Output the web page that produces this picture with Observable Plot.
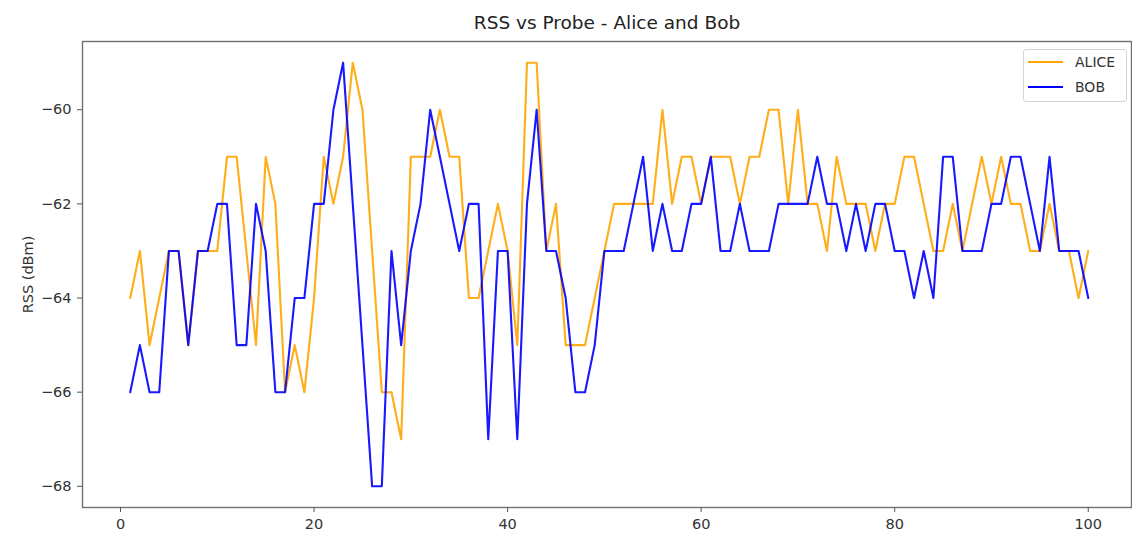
<!DOCTYPE html>
<html>
<head>
<meta charset="utf-8">
<script src="https://cdn.jsdelivr.net/npm/d3@7"></script>
<script src="https://cdn.jsdelivr.net/npm/@observablehq/plot@0.6"></script>
<style>
  body { margin: 0; background: #fff; }
  #wrap { position: relative; width: 1132px; height: 534px; font-family: "DejaVu Sans", sans-serif; }
  #legend { position: absolute; left: 1023px; top: 49px; width: 104px; height: 53px;
    border: 1px solid #d4d4d4; border-radius: 3px; background: rgba(255,255,255,0.85); box-sizing: border-box; }
  .item { position: absolute; left: 4px; height: 16px; display: flex; align-items: center; font-size: 14px; color: #333; }
  .sw { width: 35px; height: 0; border-top-width: 2px; border-top-style: solid; margin-right: 12px; }
</style>
</head>
<body>
<div id="wrap">
  <div id="chart"></div>
  <div id="legend"></div>
</div>
<script>
// Probe index (x)
const probes = d3.range(1, 101);

// RSS series (dBm)
const alice = [
  -64, -63, -65, -64, -63, -63, -65, -63, -63, -63,
  -61, -61, -63, -65, -61, -62, -66, -65, -66, -64,
  -61, -62, -61, -59, -60, -63, -66, -66, -67, -61,
  -61, -61, -60, -61, -61, -64, -64, -63, -62, -63,
  -65, -59, -59, -63, -62, -65, -65, -65, -64, -63,
  -62, -62, -62, -62, -62, -60, -62, -61, -61, -62,
  -61, -61, -61, -62, -61, -61, -60, -60, -62, -60,
  -62, -62, -63, -61, -62, -62, -62, -63, -62, -62,
  -61, -61, -62, -63, -63, -62, -63, -62, -61, -62,
  -61, -62, -62, -63, -63, -62, -63, -63, -64, -63
];
const bob = [
  -66, -65, -66, -66, -63, -63, -65, -63, -63, -62,
  -62, -65, -65, -62, -63, -66, -66, -64, -64, -62,
  -62, -60, -59, -62, -65, -68, -68, -63, -65, -63,
  -62, -60, -61, -62, -63, -62, -62, -67, -63, -63,
  -67, -62, -60, -63, -63, -64, -66, -66, -65, -63,
  -63, -63, -62, -61, -63, -62, -63, -63, -62, -62,
  -61, -63, -63, -62, -63, -63, -63, -62, -62, -62,
  -62, -61, -62, -62, -63, -62, -63, -62, -62, -63,
  -63, -64, -63, -64, -61, -61, -63, -63, -63, -62,
  -62, -61, -61, -62, -63, -61, -63, -63, -63, -64
];

const seriesNames = ["ALICE", "BOB"];
const seriesColors = ["#FFA500", "#0000FF"];
const xTicks = [0, 20, 40, 60, 80, 100];
const yTicks = [-68, -66, -64, -62, -60];
const title = "RSS vs Probe - Alice and Bob";
const yLabel = "RSS (dBm)";

const rows = [];
[alice, bob].forEach((vals, s) => {
  vals.forEach((v, i) => rows.push({probe: probes[i], rss: v, who: seriesNames[s]}));
});

const fmt = d => d < 0 ? "\u2212" + Math.abs(d) : String(d);

const chart = Plot.plot({
  width: 1132,
  height: 534,
  marginLeft: 82,
  marginRight: 1,
  marginTop: 41,
  marginBottom: 27,
  style: { fontFamily: "DejaVu Sans, sans-serif", fontSize: "14.5px", color: "#333", background: "white" },
  x: { domain: [-3.93, 104.47] },
  y: { domain: [-68.45, -58.55] },
  color: { domain: seriesNames, range: seriesColors },
  marks: [
    Plot.line(rows, { x: "probe", y: "rss", z: "who", stroke: "who", strokeWidth: 2.1, strokeOpacity: 0.9 }),
    Plot.frame({ stroke: "#707070", strokeWidth: 1.4 }),
    Plot.axisX({ ticks: xTicks, tickSize: 5, tickPadding: 6, tickFormat: fmt, label: null, stroke: "#555" }),
    Plot.axisY({ ticks: yTicks, tickSize: 5, tickPadding: 6, tickFormat: fmt, stroke: "#555",
                 label: yLabel, labelAnchor: "center", labelArrow: false, labelOffset: 60 }),
    Plot.text([title], { frameAnchor: "top", dy: -26, fontSize: 18.5, fill: "#222" })
  ]
});
document.getElementById("chart").appendChild(chart);

const legend = document.getElementById("legend");
seriesNames.forEach((name, i) => {
  const item = document.createElement("div");
  item.className = "item";
  item.style.top = (4 + i * 25) + "px";
  const sw = document.createElement("span");
  sw.className = "sw";
  sw.style.borderTopColor = seriesColors[i];
  const t = document.createElement("span");
  t.textContent = name;
  item.appendChild(sw);
  item.appendChild(t);
  legend.appendChild(item);
});
</script>
</body>
</html>
